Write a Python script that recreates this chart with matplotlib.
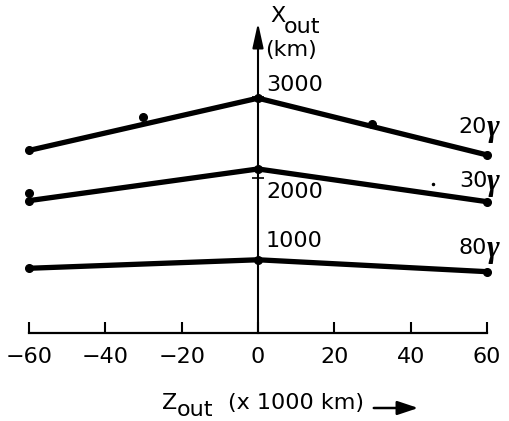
import matplotlib
matplotlib.use('Agg')
import matplotlib.pyplot as plt

# Z_out (x 1000 km) and X_out (km) for each field strength
z_pts = [-60, 0, 60]
x_20 = [2340, 2985, 2284]
x_30 = [1720, 2111, 1707]
x_80 = [885, 990, 843]
curve_labels = ['20', '30', '80']

# stray measured points
extra_z = [-30, 30, -60]
extra_x = [2757, 2663, 1811]
speck_z = [45.8]
speck_x = [1926]

xticks = [-60, -40, -20, 0, 20, 40, 60]
yticks = [1000, 2000, 3000]

fig = plt.figure(figsize=(5.1, 4.21), dpi=100)
W, H = 510, 421
ax = fig.add_axes([29 / W, (H - 333) / H, (487 - 29) / W, (333 - 20) / H])
ax.set_xlim(-60, 60)
ax.set_ylim(86, 3950)

for vals in (x_20, x_30, x_80):
    ax.plot(z_pts, vals, color='black', lw=3.8, marker='o', ms=5.5,
            solid_capstyle='round', clip_on=False, zorder=3)
ax.plot(extra_z, extra_x, 'o', color='black', ms=5.5, clip_on=False, zorder=3)
ax.plot(speck_z, speck_x, 'o', color='black', ms=1.5, clip_on=False)

# axes styling
for s in ('top', 'right'):
    ax.spines[s].set_visible(False)
ax.spines['bottom'].set_linewidth(1.6)
ax.spines['left'].set_position(('data', 0))
ax.spines['left'].set_linewidth(1.5)
ax.spines['left'].set_bounds(86, 3800)
ax.set_xticks(xticks)
ax.tick_params(axis='x', direction='in', length=8, width=1.5, pad=10, labelsize=16)
ax.set_yticks(yticks)
ax.tick_params(axis='y', direction='inout', length=9, width=1.2, labelleft=False)
ax.patch.set_alpha(0)

# arrow on y axis
ax.annotate('', xy=(0, 3950), xytext=(0, 3700),
            arrowprops=dict(arrowstyle='-|>,head_length=1.0,head_width=0.22',
                            color='black', lw=1.5, mutation_scale=15),
            annotation_clip=False)

# y tick value labels
offsets = {1000: 18, 2000: -14, 3000: 12}
for v in yticks:
    ax.annotate(str(v), (0, v), xytext=(8, offsets[v]), textcoords='offset pixels',
                fontsize=16, ha='left', va='center', annotation_clip=False)

# curve labels at right end
label_y = [2630, 1963, 1136]
for lab, yv in zip(curve_labels, label_y):
    ax.annotate(lab, (52.6, yv), fontsize=16, ha='left', va='center',
                annotation_clip=False)
    ax.annotate('γ', (52.6, yv), xytext=(28, -2), textcoords='offset pixels',
                fontsize=22, ha='left', va='center', family='Liberation Serif',
                fontweight='bold', fontstyle='italic', annotation_clip=False)

# y axis title
fig.text(270 / W, 1 - 16 / H, 'X', fontsize=16, ha='left', va='center')
fig.text(284 / W, 1 - 27 / H, 'out', fontsize=16, ha='left', va='center')
fig.text(265 / W, 1 - 50 / H, '(km)', fontsize=16, ha='left', va='center')

# x axis title
fig.text(162 / W, 1 - 403 / H, 'Z', fontsize=16, ha='left', va='center')
fig.text(177 / W, 1 - 410 / H, 'out', fontsize=16, ha='left', va='center')
fig.text(228 / W, 1 - 403 / H, '(x 1000 km)', fontsize=16, ha='left', va='center')
fig.patches.append(matplotlib.patches.FancyArrowPatch(
    (371 / W, 1 - 408 / H), (421 / W, 1 - 408 / H), transform=fig.transFigure,
    arrowstyle='-|>,head_length=0.9,head_width=0.3', mutation_scale=14,
    color='black', lw=1.8))

fig.savefig('out.png', dpi=100)
